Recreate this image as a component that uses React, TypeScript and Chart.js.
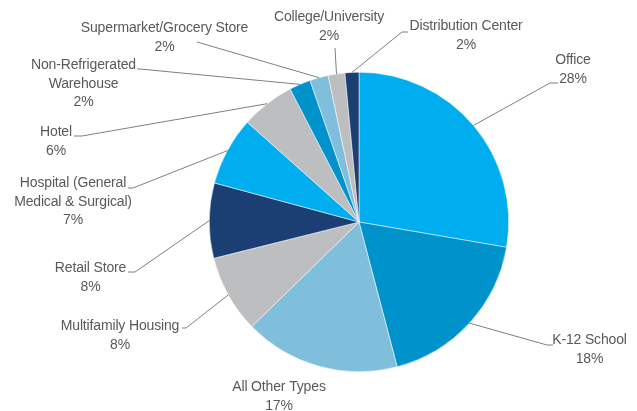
import React, { useEffect, useRef } from "react";
import { Chart, registerables } from "chart.js";

Chart.register(...registerables);

// ---- Data ----
const categories = [
  "Office",
  "K-12 School",
  "All Other Types",
  "Multifamily Housing",
  "Retail Store",
  "Hospital (General\nMedical & Surgical)",
  "Hotel",
  "Non-Refrigerated\nWarehouse",
  "Supermarket/Grocery Store",
  "College/University",
  "Distribution Center",
];
const shares = [27.7, 18.2, 16.8, 8.4, 8.1, 7.4, 5.8, 2.3, 2.0, 1.8, 1.5];
const shownPercents = [28, 18, 17, 8, 8, 7, 6, 2, 2, 2, 2];

// ---- Styles ----
const sliceColors = [
  "#00AEEF",
  "#0092CA",
  "#7FBFDC",
  "#BCBEC0",
  "#1B3F73",
  "#00AEEF",
  "#BCBEC0",
  "#0092CA",
  "#7FBFDC",
  "#BCBEC0",
  "#1B3F73",
];

// ---- Label layout (text centre x, first-line centre y, leader line bends) ----
const labelLayout: { x: number; y: number; path: number[][] }[] = [
  { x: 573, y: 60, path: [[550, 83], [558, 83]] },
  { x: 589.5, y: 340, path: [[547, 345], [553, 345]] },
  { x: 279, y: 387, path: [] },
  { x: 120, y: 326, path: [[186, 328], [182, 328]] },
  { x: 90.5, y: 268, path: [[135, 272], [128, 272]] },
  { x: 73, y: 183, path: [[133, 188], [128, 188]] },
  { x: 56, y: 132, path: [[82, 136], [74, 136]] },
  { x: 83.5, y: 65, path: [[140, 69], [137, 69]] },
  { x: 164.5, y: 28, path: [[197, 42]] },
  { x: 329, y: 17, path: [[335, 48]] },
  { x: 466, y: 26, path: [[402, 32], [408, 32]] },
];
const LINE_HEIGHT = 18.7;

const labelsPlugin = {
  id: "outerLabels",
  afterDatasetsDraw(chart: any) {
    const ctx = chart.ctx as CanvasRenderingContext2D;
    const meta = chart.getDatasetMeta(0);
    ctx.save();
    meta.data.forEach((arc: any, i: number) => {
      const p = arc.getProps(["x", "y", "startAngle", "endAngle", "outerRadius"], true);
      const mid = (p.startAngle + p.endAngle) / 2;
      const sx = p.x + Math.cos(mid) * p.outerRadius;
      const sy = p.y + Math.sin(mid) * p.outerRadius;
      const lay = labelLayout[i];
      if (lay.path.length) {
        ctx.beginPath();
        ctx.strokeStyle = "#7F7F7F";
        ctx.lineWidth = 1;
        ctx.moveTo(sx, sy);
        lay.path.forEach(([px, py]) => ctx.lineTo(px, py));
        ctx.stroke();
      }
      const lines = categories[i].split("\n").concat([shownPercents[i] + "%"]);
      ctx.fillStyle = "#595959";
      ctx.font = '14px "Liberation Sans", Arial, sans-serif';
      (ctx as any).letterSpacing = "-0.15px";
      ctx.textAlign = "center";
      ctx.textBaseline = "middle";
      lines.forEach((t, k) => ctx.fillText(t, lay.x, lay.y + k * LINE_HEIGHT));
    });
    ctx.restore();
  },
};

export default function App() {
  const ref = useRef<HTMLCanvasElement | null>(null);
  useEffect(() => {
    if (!ref.current) return;
    const chart = new Chart(ref.current, {
      type: "pie",
      data: {
        labels: categories.map((c) => c.replace("\n", " ")),
        datasets: [
          {
            data: shares,
            backgroundColor: sliceColors,
            borderColor: "#ffffff",
            borderWidth: 0.5,
            hoverOffset: 0,
          },
        ],
      },
      options: {
        responsive: false,
        animation: false,
        events: [],
        layout: { padding: { left: 209, right: 128, top: 72, bottom: 39 } },
        plugins: {
          legend: { display: false },
          tooltip: { enabled: false },
        },
      },
      plugins: [labelsPlugin],
    });
    return () => chart.destroy();
  }, []);
  return (
    <div style={{ position: "fixed", left: 0, top: 0, width: 637, height: 411, background: "#fff" }}>
      <canvas ref={ref} width={637} height={411} style={{ display: "block" }} />
    </div>
  );
}
